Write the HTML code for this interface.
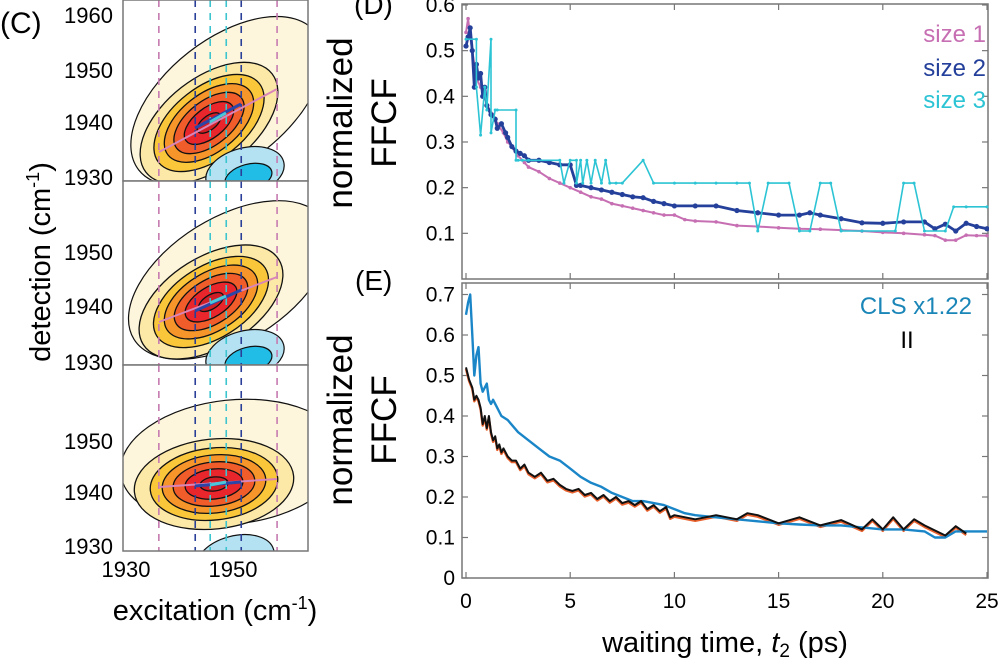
<!DOCTYPE html>
<html><head><meta charset="utf-8">
<style>
html,body{margin:0;padding:0;background:#fff;}
svg{display:block;font-family:"Liberation Sans",Arial,sans-serif;}
</style></head>
<body>
<svg id="fig" width="1000" height="666" viewBox="0 0 1000 666" xmlns="http://www.w3.org/2000/svg">
<defs>
<clipPath id="cp1"><rect x="123" y="0" width="185" height="181"/></clipPath>
<clipPath id="cp2"><rect x="123" y="181" width="185" height="184"/></clipPath>
<clipPath id="cp3"><rect x="123" y="365" width="185" height="186"/></clipPath>
<clipPath id="cpD"><rect x="462" y="3" width="527" height="277"/></clipPath>
<clipPath id="cpE"><rect x="462" y="282" width="527" height="297"/></clipPath>
</defs>
<g id="panelC"></g>
<g id="panelD"></g>
<g id="panelE"></g>
<text x="0" y="33" font-size="30">(C)</text>
<text x="354" y="14" font-size="28">(D)</text>
<text x="355" y="290" font-size="28">(E)</text>
<text transform="translate(50,262) rotate(-90)" text-anchor="middle" font-size="29">detection (cm<tspan font-size="18" dy="-11">-1</tspan><tspan dy="11">)</tspan></text>
<text x="215" y="620" text-anchor="middle" font-size="29">excitation (cm<tspan font-size="18" dy="-11">-1</tspan><tspan dy="11">)</tspan></text>
<text transform="translate(352,123) rotate(-90)" text-anchor="middle" font-size="35">normalized</text>
<text transform="translate(396,123) rotate(-90)" text-anchor="middle" font-size="35">FFCF</text>
<text transform="translate(352,420) rotate(-90)" text-anchor="middle" font-size="35">normalized</text>
<text transform="translate(396,420) rotate(-90)" text-anchor="middle" font-size="35">FFCF</text>
<text x="725" y="652" text-anchor="middle" font-size="29">waiting time, <tspan font-style="italic">t</tspan><tspan font-size="19" dy="5">2</tspan><tspan dy="-5"> (ps)</tspan></text>
<text x="986" y="42" text-anchor="end" font-size="24" fill="#c76fb3">size 1</text>
<text x="986" y="76" text-anchor="end" font-size="24" fill="#24409a">size 2</text>
<text x="986" y="108" text-anchor="end" font-size="24" fill="#2cc4d4">size 3</text>
<text x="972" y="314" text-anchor="end" font-size="24" fill="#1a86b8">CLS x1.22</text>
<text x="907" y="348" text-anchor="middle" font-size="24" fill="#000">II</text>
</svg>
<script>
// ---------- Panel D data ----------
const tSize1 = [0,0.1,0.2,0.3,0.5,0.7,0.9,1.0,1.3,1.5,1.8,2.0,2.3,2.5,2.8,3.0,3.5,4.0,4.5,5.0,5.5,6.0,6.5,7.0,7.5,8.0,8.5,9.0,9.5,10,10.5,11,12,13,14,15,16,17,18,19,20,21,22,22.5,23,23.5,24,24.5,25];
const vSize1 = [0.54,0.57,0.53,0.50,0.44,0.42,0.40,0.38,0.36,0.34,0.32,0.30,0.285,0.27,0.255,0.245,0.235,0.22,0.21,0.20,0.19,0.18,0.175,0.165,0.16,0.155,0.15,0.145,0.14,0.14,0.13,0.127,0.125,0.117,0.115,0.112,0.11,0.109,0.107,0.105,0.102,0.1,0.097,0.095,0.085,0.085,0.096,0.095,0.095];
const tSize2 = [0,0.1,0.2,0.3,0.4,0.5,0.6,0.7,0.8,0.9,1.0,1.2,1.4,1.5,1.7,1.9,2.0,2.2,2.4,2.6,2.8,3.0,3.5,4.0,4.5,5.0,5.3,5.5,6.0,6.5,7.0,7.5,8.0,8.5,9.0,9.5,10,11,12,13,14,15,16,16.5,17,18,19,20,21,22,22.5,23,23.5,24,24.5,25];
const vSize2 = [0.51,0.53,0.55,0.50,0.42,0.47,0.44,0.45,0.40,0.42,0.38,0.36,0.35,0.33,0.34,0.32,0.31,0.29,0.28,0.275,0.27,0.26,0.26,0.255,0.25,0.25,0.205,0.205,0.20,0.195,0.19,0.185,0.18,0.178,0.17,0.165,0.16,0.16,0.16,0.15,0.145,0.14,0.14,0.145,0.14,0.132,0.123,0.122,0.125,0.125,0.11,0.12,0.105,0.122,0.115,0.11];
const tSize3 = [0,0.5,0.5,0.7,0.9,1.0,1.2,1.2,1.4,1.5,2.4,2.4,2.5,2.7,3.0,4.5,4.7,5.0,5.3,5.3,5.5,5.6,5.8,6.0,6.2,6.5,6.7,6.9,7.2,7.5,8.5,9.0,10,11,12,13,13.6,14.0,14.5,15.5,16.0,16.5,17.0,17.5,18.0,19,20.6,21.0,21.5,22.0,23.0,23.4,24,25];
const vSize3 = [0.525,0.525,0.42,0.315,0.42,0.37,0.525,0.32,0.37,0.37,0.37,0.26,0.26,0.26,0.26,0.26,0.21,0.26,0.26,0.21,0.26,0.21,0.26,0.21,0.26,0.21,0.26,0.21,0.21,0.21,0.26,0.21,0.21,0.21,0.21,0.21,0.21,0.105,0.21,0.21,0.105,0.105,0.21,0.21,0.105,0.105,0.105,0.21,0.21,0.105,0.105,0.158,0.158,0.158];
// ---------- Panel E data ----------
const tCLS = [0,0.1,0.2,0.3,0.4,0.5,0.6,0.7,0.8,0.9,1.0,1.1,1.2,1.3,1.5,1.7,2.0,2.5,3.0,3.5,4.0,4.5,5.0,5.5,6.0,6.5,7.0,7.5,8.0,8.5,9.0,9.5,10,10.5,11,12,13,14,15,16,17,18,19,20,21,22,22.5,23,23.5,24,25];
const vCLS = [0.65,0.68,0.70,0.60,0.50,0.55,0.57,0.48,0.46,0.47,0.48,0.44,0.43,0.44,0.42,0.40,0.39,0.36,0.34,0.32,0.30,0.29,0.27,0.25,0.235,0.225,0.21,0.20,0.19,0.19,0.185,0.18,0.17,0.16,0.155,0.15,0.145,0.14,0.135,0.132,0.13,0.13,0.125,0.12,0.12,0.115,0.10,0.10,0.115,0.115,0.115];
const tII = [0,0.15,0.3,0.4,0.5,0.6,0.7,0.8,0.9,1.0,1.1,1.2,1.3,1.4,1.5,1.6,1.7,1.8,2.0,2.2,2.4,2.6,2.8,3.0,3.3,3.6,3.9,4.2,4.5,4.8,5.1,5.4,5.7,6.0,6.3,6.6,6.9,7.2,7.5,7.8,8.1,8.4,8.7,9.0,9.3,9.6,9.8,10,11,12,13,13.5,14,15,16,17,18,19,19.5,20,20.5,21,21.5,22,23,23.5,24];
const vII = [0.52,0.49,0.47,0.44,0.45,0.44,0.42,0.38,0.40,0.37,0.40,0.36,0.34,0.35,0.32,0.33,0.31,0.32,0.30,0.29,0.29,0.27,0.28,0.26,0.25,0.26,0.24,0.245,0.23,0.22,0.215,0.22,0.205,0.21,0.195,0.205,0.19,0.2,0.185,0.19,0.18,0.19,0.17,0.18,0.165,0.175,0.15,0.155,0.145,0.155,0.145,0.16,0.155,0.135,0.15,0.13,0.143,0.12,0.145,0.12,0.15,0.12,0.145,0.13,0.105,0.128,0.11];
const xTicks = [0,5,10,15,20,25];
const yTicksD = [0.1,0.2,0.3,0.4,0.5,0.6];
const yTicksE = [0,0.1,0.2,0.3,0.4,0.5,0.6,0.7];
// ---------- Panel C data (cm-1) ----------
const cTicksX = [1930,1950];
const cDashPink = [1936.7,1958.8];
const cDashBlue = [1943.5,1952.1];
const cDashCyan = [1946.3,1949.3];

const NS='http://www.w3.org/2000/svg';
function mk(tag,attrs,parent){const e=document.createElementNS(NS,tag);for(const k in attrs)e.setAttribute(k,attrs[k]);parent.appendChild(e);return e;}
const X=t=>466+t*20.84;
const YD=v=>279-v*456.7;
const YE=v=>578-v*405;
const CX=w=>123+(w-1930)*5.35;

// ===== Panel D =====
const gD=document.getElementById('panelD');
const boxD=mk('rect',{x:462,y:4,width:526,height:275,fill:'none',stroke:'#777','stroke-width':1.5},gD);


xTicks.forEach(t=>{
  const l1=mk('line',{x1:X(t),x2:X(t),y1:279,y2:273,stroke:'#777','stroke-width':1.2},gD);
  
  
  const l2=mk('line',{x1:X(t),x2:X(t),y1:4,y2:10,stroke:'#777','stroke-width':1.2},gD);
  
  
});
yTicksD.forEach(v=>{
  const l=mk('line',{x1:462,x2:468,y1:YD(v),y2:YD(v),stroke:'#777','stroke-width':1.2},gD);
  
  
  const r=mk('line',{x1:982,x2:988,y1:YD(v),y2:YD(v),stroke:'#777','stroke-width':1.2},gD);
  
  
  const tx=mk('text',{x:455,y:YD(v)+7,'text-anchor':'end','font-size':21},gD);
  tx.textContent=v.toFixed(1);
  
  
});
function series(g,ts,vs,Y,color,w,dotR,name,clip){
  const pts=ts.map((t,i)=>X(t).toFixed(1)+','+Y(vs[i]).toFixed(1)).join(' ');
  const sg=mk('g',{'clip-path':'url(#'+clip+')'},g);
  
  
  const pl=mk('polyline',{points:pts,fill:'none',stroke:color,'stroke-width':w,'stroke-linejoin':'round'},sg);
  
  
  if(dotR>0){ts.forEach((t,i)=>{
    const c=mk('circle',{cx:X(t),cy:Y(vs[i]),r:dotR,fill:color},sg);
    
    
  });}
}
series(gD,tSize1,vSize1,YD,'#c76fb3',2,1.8,'series-size-1','cpD');
series(gD,tSize2,vSize2,YD,'#24409a',2.8,2.6,'series-size-2','cpD');
series(gD,tSize3,vSize3,YD,'#2cc4d4',1.6,1.5,'series-size-3','cpD');

// ===== Panel E =====
const gE=document.getElementById('panelE');
const boxE=mk('rect',{x:462,y:283,width:526,height:295,fill:'none',stroke:'#777','stroke-width':1.5},gE);


xTicks.forEach(t=>{
  const l1=mk('line',{x1:X(t),x2:X(t),y1:578,y2:572,stroke:'#777','stroke-width':1.2},gE);
  
  
  const l2=mk('line',{x1:X(t),x2:X(t),y1:283,y2:289,stroke:'#777','stroke-width':1.2},gE);
  
  
  const tx=mk('text',{x:X(t),y:608,'text-anchor':'middle','font-size':21},gE);
  tx.textContent=t;
  
  
});
yTicksE.forEach(v=>{
  const l=mk('line',{x1:462,x2:468,y1:YE(v),y2:YE(v),stroke:'#777','stroke-width':1.2},gE);
  
  
  const r=mk('line',{x1:982,x2:988,y1:YE(v),y2:YE(v),stroke:'#777','stroke-width':1.2},gE);
  
  
  const tx=mk('text',{x:455,y:YE(v)+7,'text-anchor':'end','font-size':21},gE);
  tx.textContent=v===0?'0':v.toFixed(1);
  
  
});
series(gE,tII,vII,v=>YE(v)+1.5,'#e8602c',2.4,0,'series-ii-orange','cpE');
series(gE,tCLS,vCLS,YE,'#1a86c8',2.4,0,'series-cls','cpE');
series(gE,tII,vII,YE,'#111',2,0,'series-ii','cpE');

// ===== Panel C =====
const gC=document.getElementById('panelC');
const subs=[
 {top:0,bot:181,clip:'cp1',cx:209,cy:123,rot:-38,ticks:[[1960,15],[1950,70],[1940,122],[1930,177]],blue:[245,172],lines:[[159,152,277,89],[195,128,241,104],[210,122,226,113]]},
 {top:181,bot:365,clip:'cp2',cx:211,cy:302,rot:-32,ticks:[[1950,252],[1940,306],[1930,362]],blue:[245,355],lines:[[159,322,277,277],[195,311,241,290],[210,303,226,296]]},
 {top:365,bot:551,clip:'cp3',cx:214,cy:484,rot:-6,ticks:[[1950,441],[1940,492],[1930,546]],blue:[235,560],lines:[[159,487,277,479],[195,486,241,482],[210,485,226,482]]}
];
const layers=[[80,45,'#fce9a8'],[64,36,'#fbc73a'],[52,29,'#f6952a'],[41,22,'#f05d2a'],[29,15,'#e8262b'],[14,7,'#d01e26']];
subs.forEach((s,si)=>{
  const g=mk('g',{'clip-path':'url(#'+s.clip+')'},gC);
  
  
  mk('rect',{x:123,y:s.top,width:185,height:s.bot-s.top,fill:'#fff'},g);
  const bg=mk('ellipse',{cx:s.cx+18,cy:s.cy-22,rx:112,ry:62,fill:'#fdf6dc',stroke:'#111','stroke-width':1.2,transform:`rotate(${s.rot} ${s.cx+18} ${s.cy-22})`},g);
  
  
  layers.forEach((L,li)=>{
    const e=mk('ellipse',{cx:s.cx,cy:s.cy,rx:L[0],ry:L[1],fill:L[2],stroke:'#111','stroke-width':1.3,transform:`rotate(${s.rot} ${s.cx} ${s.cy})`},g);
    
    
  });
  const b1=mk('ellipse',{cx:s.blue[0],cy:s.blue[1],rx:40,ry:24,fill:'#b4e2f2',stroke:'#111','stroke-width':1.2,transform:`rotate(-15 ${s.blue[0]} ${s.blue[1]})`},g);
  
  
  const b2=mk('ellipse',{cx:s.blue[0]+2,cy:s.blue[1]+6,rx:24,ry:13,fill:'#22bde6',stroke:'#111','stroke-width':1.2,transform:`rotate(-15 ${s.blue[0]} ${s.blue[1]})`},g);
  
  
  const dash=[[cDashPink,'#c67bb0'],[cDashBlue,'#2a3f98'],[cDashCyan,'#3cc4cf']];
  dash.forEach(([arr,col])=>arr.forEach(w=>{
    const l=mk('line',{x1:CX(w),x2:CX(w),y1:s.top,y2:s.bot,stroke:col,'stroke-width':1.6,'stroke-dasharray':'7,6'},g);
    
    
  }));
  const lc=['#d985b8','#2c46a8','#4ac8da'];
  s.lines.forEach((ln,i)=>{
    const l=mk('line',{x1:ln[0],y1:ln[1],x2:ln[2],y2:ln[3],stroke:lc[i],'stroke-width':i==0?2:3},g);
    
    
  });
  const fr=mk('rect',{x:123,y:s.top,width:185,height:s.bot-s.top,fill:'none',stroke:'#777','stroke-width':1.5},gC);
  
  
  s.ticks.forEach(([lab,y])=>{
    const t=mk('text',{x:113,y:y+8,'text-anchor':'end','font-size':22},gC);
    t.textContent=lab;
    
    
  });
});
cTicksX.forEach(w=>{
  const t=mk('text',{x:CX(w)+3,y:577,'text-anchor':'middle','font-size':22},gC);
  t.textContent=w;
  
  
});
</script>
</body></html>
